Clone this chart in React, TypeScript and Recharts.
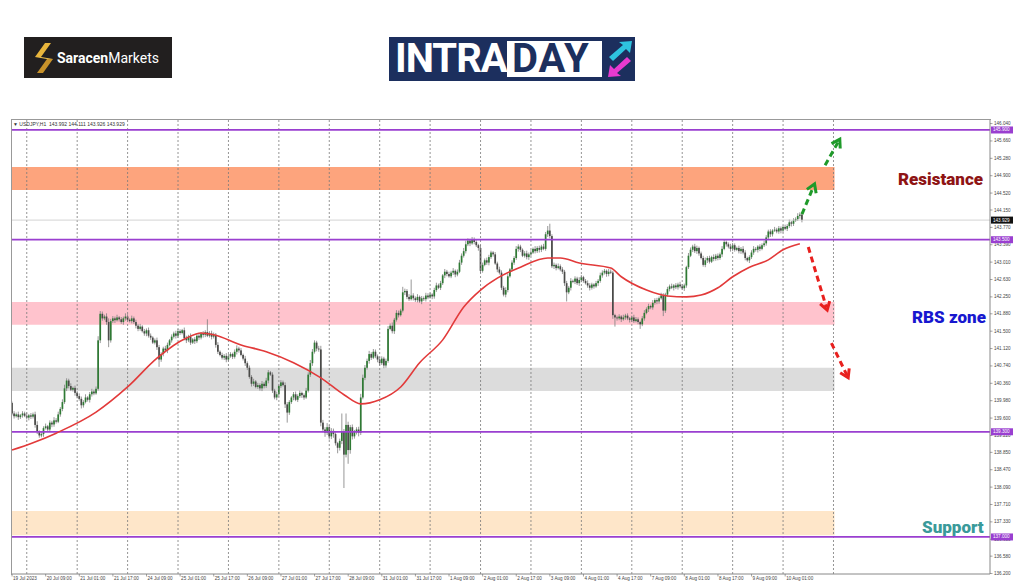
import React from 'react';
import { ComposedChart, Bar, Line, XAxis, YAxis, ReferenceArea, ReferenceLine } from 'recharts';

// USDJPY H1, 19 Jul 2023 17:00 -> 10 Aug 2023 09:00 (one value per hourly bar)
const firstOpen = 139.93;
const closes = [
  /* 0 */ 139.70, 139.64, 139.68, 139.62, 139.66, 139.70, 139.65, 139.61, 139.66, 139.63, 139.68,
  /* 11 */ 139.45, 139.30, 139.22, 139.25, 139.38, 139.42, 139.35, 139.50, 139.46, 139.55, 139.52,
  /* 22 */ 139.68, 139.80, 139.95, 140.25, 140.42, 140.30, 140.22, 140.26, 140.15, 140.08, 140.02,
  /* 33 */ 139.88, 139.95, 140.05, 140.00, 140.12, 140.18, 140.14, 140.24, 141.30, 141.88,
  /* 43 */ 141.78, 141.82, 141.70, 141.30, 141.72,
  /* 48 */ 141.78, 141.74, 141.80, 141.76, 141.70, 141.78, 141.82, 141.75, 141.72, 141.78, 141.70,
  /* 59 */ 141.62, 141.55, 141.60, 141.50, 141.45, 141.52, 141.40, 141.36, 141.25, 141.30, 141.15,
  /* 70 */ 140.88, 141.00, 141.12, 141.08, 141.20,
  /* 75 */ 141.30, 141.38, 141.45, 141.40, 141.50, 141.46, 141.52,
  /* 82 */ 141.35, 141.30, 141.38, 141.25, 141.32, 141.28, 141.40, 141.36, 141.45,
  /* 91 */ 141.42, 141.48, 141.40, 141.45, 141.38, 141.42, 141.20, 141.05, 140.98,
  /* 100 */ 140.92, 140.96, 140.88, 140.95, 141.00, 140.94, 141.05, 141.12, 141.08,
  /* 109 */ 140.98, 140.90, 140.80, 140.70, 140.50, 140.35, 140.40,
  /* 116 */ 140.28, 140.32, 140.25, 140.35, 140.30, 140.42, 140.60, 140.55,
  /* 124 */ 140.20, 140.05, 140.12, 140.30, 140.38, 140.32, 139.90, 139.72,
  /* 132 */ 139.95, 140.05, 140.12, 140.00, 140.08, 140.15, 140.10, 140.05, 140.20,
  /* 141 */ 140.55, 140.80, 141.05, 141.25, 141.12, 141.10, 139.50,
  /* 148 */ 139.35, 139.28, 139.40, 139.20, 139.32, 139.25, 139.05, 138.95, 139.10,
  /* 157 */ 139.30, 138.80, 139.45, 138.90, 139.40, 139.20, 139.30, 139.35, 139.28,
  /* 166 */ 140.05, 140.48, 140.70, 140.85, 141.00, 140.92, 141.05, 140.95, 140.88,
  /* 175 */ 140.80, 140.90, 140.75, 140.85, 141.55,
  /* 180 */ 141.62, 141.50, 141.75, 141.90, 141.85, 141.95, 142.35, 142.38,
  /* 188 */ 142.25, 142.20, 142.28, 142.22,
  /* 192 */ 142.18, 142.25, 142.15, 142.22, 142.20, 142.28, 142.24, 142.30, 142.26,
  /* 201 */ 142.40, 142.50, 142.45, 142.55,
  /* 205 */ 142.72, 142.80, 142.75, 142.70, 142.78, 142.82, 142.74, 142.80,
  /* 213 */ 143.00, 143.15, 143.25, 143.40, 143.48, 143.42, 143.50, 143.45, 143.38, 143.32, 142.82,
  /* 224 */ 142.95, 143.05, 143.00, 143.12, 143.22, 143.18, 142.98, 142.85, 142.78,
  /* 233 */ 142.45, 142.30, 142.40, 142.70, 142.85, 143.00, 143.10,
  /* 240 */ 143.30, 143.35, 143.28, 143.15, 143.20, 143.12, 143.18, 143.22,
  /* 248 */ 143.30, 143.25, 143.32, 143.28, 143.35, 143.30, 143.62, 143.70, 143.58, 142.92,
  /* 258 */ 142.95, 142.88, 142.92, 142.85, 142.80, 142.55, 142.35, 142.45,
  /* 266 */ 142.60, 142.58, 142.65, 142.55, 142.62, 142.68, 142.60, 142.55, 142.50,
  /* 275 */ 142.45, 142.52, 142.48, 142.55, 142.60, 142.72, 142.78, 142.82, 142.75, 142.80, 142.78,
  /* 286 */ 141.85, 141.80, 141.78, 141.82, 141.76, 141.80, 141.84, 141.78, 141.75, 141.80, 141.72, 141.76, 141.70,
  /* 299 */ 141.65, 141.78, 141.90, 141.98, 142.05, 142.02, 142.12, 142.18, 142.15, 142.22, 142.28, 141.95,
  /* 311 */ 142.30, 142.42, 142.48, 142.45, 142.50, 142.46, 142.52, 142.48, 142.44, 142.50,
  /* 321 */ 142.90, 143.15, 143.28, 143.35, 143.25, 143.32, 143.20, 143.10, 142.95,
  /* 330 */ 143.05, 143.10, 143.02, 143.12, 143.08, 143.15, 143.10, 143.18, 143.30, 143.45, 143.40,
  /* 341 */ 143.35, 143.30, 143.38, 143.28, 143.32, 143.25, 143.30, 143.22, 143.10, 143.05, 143.12,
  /* 352 */ 143.22, 143.30, 143.28, 143.35, 143.30, 143.38, 143.42, 143.55, 143.68, 143.62, 143.70,
  /* 363 */ 143.72, 143.68, 143.75, 143.70, 143.78, 143.74, 143.80, 143.88, 143.85, 143.92, 143.95, 144.02,
  /* 375 */ 144.05, 143.93,
];

// wick lengths above / below the body, in hundredths of a yen
const upWick = [
  3, 5, 4, 6, 3, 5, 4, 7, 3, 5, 4, 6, 8, 3, 5, 4, 6, 3, 5, 4, 7, 5, 6, 4,
  6, 8, 5, 4, 6, 3, 5, 4, 6, 5, 4, 7, 3, 5, 6, 4, 5, 9, 6, 5, 4, 7, 8, 5,
  5, 4, 6, 3, 5, 4, 7, 5, 3, 6, 4, 5, 4, 6, 3, 5, 4, 6, 5, 3, 4, 6, 5, 4,
  4, 6, 5, 3, 5, 4, 6, 5, 4, 3, 6, 5, 4, 7, 3, 5, 4, 6, 3, 5, 4, 28, 5, 6,
  5, 4, 6, 3, 5, 4, 6, 5, 4, 3, 5, 7, 4, 5, 3, 6, 4, 5, 4, 6, 3, 5, 4, 6,
  4, 6, 5, 3, 5, 4, 6, 3, 5, 4, 6, 5, 4, 3, 5, 6, 4, 5, 3, 4, 6, 5, 7, 6,
  5, 4, 6, 8, 6, 5, 9, 4, 6, 5, 4, 3, 5, 40, 6, 25, 7, 5, 6, 4, 5, 6, 8, 7,
  6, 5, 7, 4, 6, 5, 4, 6, 5, 4, 5, 6, 5, 7, 4, 6, 5, 4, 12, 5, 4, 6, 35, 5,
  4, 6, 3, 5, 4, 6, 5, 4, 3, 5, 6, 4, 5, 3, 6, 4, 5, 4, 6, 3, 5, 6, 5, 7,
  8, 5, 4, 6, 5, 4, 3, 6, 5, 4, 6, 5, 4, 3, 5, 4, 6, 5, 4, 6, 5, 3, 5, 4,
  6, 5, 4, 3, 5, 6, 4, 5, 3, 6, 4, 5, 4, 6, 5, 10, 15, 4, 5, 3, 6, 4, 5, 4,
  5, 4, 6, 3, 5, 4, 6, 5, 3, 4, 6, 5, 4, 3, 5, 4, 6, 5, 4, 3, 6, 5, 4, 3,
  4, 5, 3, 6, 4, 5, 3, 4, 6, 5, 4, 3, 5, 6, 4, 5, 3, 6, 4, 5, 4, 6, 5, 4,
  5, 4, 6, 3, 5, 4, 6, 5, 4, 3, 6, 5, 4, 6, 5, 3, 4, 5, 6, 4, 5, 3, 6, 4,
  5, 4, 6, 5, 3, 4, 6, 5, 4, 3, 5, 4, 6, 5, 3, 4, 5, 6, 4, 3, 5, 4, 6, 5,
  4, 5, 3, 6, 4, 5, 4, 3, 5, 4, 6, 3, 5, 4, 6, 5, 4,
];
const downWick = [
  4, 5, 3, 6, 4, 5, 3, 4, 6, 5, 4, 6, 5, 5, 4, 6, 3, 5, 4, 6, 5, 4, 3, 5,
  5, 4, 6, 5, 3, 4, 6, 5, 4, 7, 5, 3, 4, 6, 5, 4, 3, 4, 6, 5, 4, 6, 15, 5,
  4, 6, 3, 5, 4, 6, 5, 4, 3, 5, 4, 6, 5, 4, 3, 5, 6, 4, 5, 3, 4, 6, 16, 5,
  5, 4, 6, 3, 5, 4, 6, 5, 4, 3, 5, 6, 4, 5, 3, 6, 4, 5, 4, 6, 5, 3, 4, 6,
  4, 6, 5, 3, 4, 5, 6, 4, 3, 5, 4, 6, 5, 3, 4, 6, 5, 4, 6, 5, 3, 4, 5, 6,
  5, 4, 6, 3, 5, 4, 6, 5, 4, 3, 8, 22, 5, 4, 6, 3, 5, 4, 6, 5, 3, 4, 5, 6,
  4, 6, 5, 8, 6, 9, 5, 7, 6, 8, 5, 12, 6, 7, 73, 6, 30, 8, 7, 5, 6, 8, 5, 4,
  5, 4, 6, 5, 3, 4, 6, 5, 4, 6, 5, 4, 3, 5, 6, 4, 5, 3, 4, 6, 5, 4, 3, 5,
  4, 5, 3, 6, 4, 5, 4, 3, 6, 5, 4, 3, 5, 4, 6, 5, 3, 4, 5, 6, 4, 3, 5, 4,
  5, 4, 6, 3, 5, 4, 6, 5, 4, 3, 5, 6, 4, 5, 3, 6, 4, 5, 4, 6, 5, 3, 4, 5,
  4, 6, 5, 3, 4, 5, 6, 4, 3, 5, 4, 6, 5, 3, 4, 6, 5, 4, 6, 5, 3, 4, 5, 6,
  20, 4, 6, 3, 5, 4, 6, 5, 4, 3, 5, 6, 4, 5, 3, 6, 4, 5, 4, 6, 5, 3, 8, 20,
  5, 4, 6, 3, 5, 4, 6, 5, 4, 3, 5, 10, 4, 5, 3, 6, 4, 5, 4, 6, 5, 3, 12, 5,
  4, 5, 3, 6, 4, 5, 4, 3, 6, 5, 4, 3, 5, 4, 6, 5, 3, 4, 5, 6, 4, 3, 5, 4,
  5, 4, 6, 3, 5, 4, 6, 5, 4, 3, 5, 6, 4, 5, 3, 6, 4, 5, 4, 6, 5, 3, 4, 5,
  4, 6, 5, 3, 4, 5, 6, 4, 3, 5, 4, 6, 5, 3, 4, 6, 5,
];

// moving average read at sample bars
const maBars = [0, 10, 21, 40, 55, 69, 83, 90, 96, 109, 121, 134, 147, 158, 166, 175, 185, 194, 205, 215, 223, 231, 242, 255, 261, 270, 285, 290, 302, 312, 321, 328, 336, 343, 351, 360, 367, 375];
const maValues = [138.90, 139.06, 139.27, 139.73, 140.28, 140.91, 141.35, 141.46, 141.42, 141.20, 141.05, 140.81, 140.48, 140.11, 139.91, 140.00, 140.28, 140.81, 141.31, 142.03, 142.40, 142.66, 142.90, 143.10, 143.10, 142.99, 142.88, 142.69, 142.40, 142.27, 142.25, 142.29, 142.45, 142.69, 142.90, 143.06, 143.28, 143.41];

const xLabels = ['19 Jul 2023', '20 Jul 09:00', '21 Jul 01:00', '21 Jul 17:00', '24 Jul 09:00', '25 Jul 01:00', '25 Jul 17:00', '26 Jul 09:00', '27 Jul 01:00', '27 Jul 17:00', '28 Jul 09:00', '31 Jul 01:00', '31 Jul 17:00', '1 Aug 09:00', '2 Aug 01:00', '2 Aug 17:00', '3 Aug 09:00', '4 Aug 01:00', '4 Aug 17:00', '7 Aug 09:00', '8 Aug 01:00', '8 Aug 17:00', '9 Aug 09:00', '10 Aug 01:00'];
const dayStarts = [7, 31, 55, 79, 103, 127, 151, 175, 199, 223, 247, 271, 295, 319, 343, 367, 391];
const priceTicks = [146.04, 145.66, 145.28, 144.90, 144.52, 144.15, 143.77, 143.39, 143.01, 142.63, 142.25, 141.88, 141.50, 141.12, 140.74, 140.36, 139.98, 139.60, 139.22, 138.85, 138.47, 138.09, 137.71, 137.33, 136.95, 136.58, 136.20];
const keyLevels = [145.9, 143.5, 139.3, 137.0];
const lastPrice = 143.929;

const resistanceZone = [144.59, 145.09];
const rbsZone = [141.64, 142.14];
const midZone = [140.19, 140.70];
const supportZone = [137.04, 137.57];

const greenArrows = [
  [[376, 144.06], [382, 144.72]],
  [[387, 145.13], [394, 145.70]],
];
const redArrows = [
  [[379, 143.34], [388, 141.96]],
  [[390, 141.24], [398, 140.48]],
];

const SLOTS = 466;
const rows = Array.from({ length: SLOTS }, (_, i) => {
  const k = maBars.indexOf(i);
  const ma = k >= 0 ? maValues[k] : null;
  if (i >= closes.length) return { i, ma };
  const o = i === 0 ? firstOpen : closes[i - 1];
  const c = closes[i];
  const hi = Math.max(o, c) + upWick[i] / 100;
  const lo = Math.min(o, c) - downWick[i] / 100;
  return { i, o, c, hi, lo, range: [lo, hi], ma };
});

const Candle = (props: any) => {
  const { x, y, width, height, payload } = props;
  if (!payload || payload.hi == null) return null;
  const top = Math.min(y, y + height);
  const h = Math.abs(height);
  const span = payload.hi - payload.lo;
  const py = (p: number) => (span > 0 ? top + ((payload.hi - p) / span) * h : top);
  const cx = x + width / 2;
  const yo = py(payload.o);
  const yc = py(payload.c);
  const bull = payload.c >= payload.o;
  return (
    <g>
      <line x1={cx} x2={cx} y1={top} y2={top + h} stroke='#7d7d7d' strokeWidth={0.8} />
      <rect x={cx - 0.85} y={Math.min(yo, yc)} width={1.7} height={Math.max(0.8, Math.abs(yo - yc))} fill={bull ? '#2f7a34' : '#4a4a48'} />
    </g>
  );
};

const Arrow = (color: string) => (props: any) => {
  const { x1, y1, x2, y2 } = props;
  if (x1 == null) return null;
  const dx = x2 - x1;
  const dy = y2 - y1;
  const len = Math.hypot(dx, dy) || 1;
  const ux = dx / len;
  const uy = dy / len;
  const bx = x2 - ux * 8;
  const by = y2 - uy * 8;
  return (
    <g>
      <line x1={x1} y1={y1} x2={x2 - ux * 3} y2={y2 - uy * 3} stroke={color} strokeWidth={3} strokeDasharray='6 4' />
      <polyline points={`${bx - uy * 5},${by + ux * 5} ${x2},${y2} ${bx + uy * 5},${by - ux * 5}`} fill='none' stroke={color} strokeWidth={3} />
    </g>
  );
};

const PriceTick = (props: any) => {
  const { x, y, payload } = props;
  const v = payload.value;
  const isLevel = keyLevels.includes(v);
  const isLast = v === lastPrice;
  if (isLevel || isLast) {
    return (
      <g>
        <rect x={x + 1} y={y - 3.5} width={22} height={7} fill={isLast ? '#111' : '#9a3fd0'} />
        <text x={x + 3} y={y + 0.3} fontSize={4.6} fill='#fff' dominantBaseline='middle' fontFamily='Liberation Sans'>{v.toFixed(3)}</text>
      </g>
    );
  }
  return (
    <g>
      <line x1={x} x2={x + 2.5} y1={y} y2={y} stroke='#666' strokeWidth={0.6} />
      <text x={x + 4} y={y + 0.3} fontSize={4.6} fill='#444' dominantBaseline='middle' fontFamily='Liberation Sans'>{v.toFixed(3)}</text>
    </g>
  );
};

const TimeTick = (props: any) => {
  const { x, y, payload } = props;
  const label = xLabels[Math.round(payload.value / 16)];
  return (
    <g>
      <line x1={x} x2={x} y1={y} y2={y + 2.5} stroke='#666' strokeWidth={0.6} />
      <text x={x + 1} y={y + 6} fontSize={4.6} fill='#444' fontFamily='Liberation Sans'>{label}</text>
    </g>
  );
};

const SaracenLogo = () => (
  <div style={{ position: 'absolute', left: 24, top: 37, width: 148, height: 41, background: '#221f1f', display: 'flex', alignItems: 'center' }}>
    <svg width={22} height={34} style={{ marginLeft: 9 }}>
      <polygon points='12,2 18,2 8,16 2,16' fill='#e8b53c' />
      <polygon points='14,18 20,18 10,32 4,32' fill='#c8922a' />
      <polygon points='2,16 8,16 20,18 14,18' fill='#f0c24e' />
    </svg>
    <span style={{ fontFamily: 'Roboto', fontSize: 14, color: '#fff', marginLeft: 2 }}>
      <b>Saracen</b>Markets
    </span>
  </div>
);

const IntradayLogo = () => (
  <div style={{ position: 'absolute', left: 389, top: 37, width: 246, height: 44, background: '#1c2f5e' }}>
    <div style={{ position: 'absolute', left: 6, top: 1, fontFamily: 'Roboto', fontWeight: 700, fontSize: 40, letterSpacing: -1, color: '#fff', lineHeight: '42px' }}>INTRA</div>
    <div style={{ position: 'absolute', left: 118, top: 4, width: 95, height: 36, background: '#fff' }}>
      <div style={{ position: 'absolute', left: 5, top: -3, fontFamily: 'Roboto', fontWeight: 700, fontSize: 40, letterSpacing: 1, color: '#1c2f5e', lineHeight: '42px' }}>DAY</div>
    </div>
    <svg width={30} height={40} style={{ position: 'absolute', left: 216, top: 2 }}>
      <polygon points='4,18 18,6 14,3 27,2 25,14 21,10 8,22' fill='#2ec4e0' />
      <polygon points='26,22 12,34 16,37 3,38 5,26 9,30 22,18' fill='#e83ad0' />
    </svg>
  </div>
);

const noteStyle: React.CSSProperties = { position: 'absolute', fontFamily: 'Roboto', fontWeight: 900, fontSize: 17, lineHeight: '20px' };

export default function App() {
  return (
    <div style={{ position: 'absolute', left: 0, top: 0, width: 1024, height: 587, background: '#fff', overflow: 'hidden' }}>
      <SaracenLogo />
      <IntradayLogo />
      <ComposedChart
        width={1024}
        height={587}
        data={rows}
        margin={{ top: 119, left: 11, right: 0, bottom: 0 }}
        barCategoryGap={0}
      >
        <ReferenceArea y1={resistanceZone[0]} y2={resistanceZone[1]} x2={391} fill='#fda47d' fillOpacity={1} />
        <ReferenceArea y1={rbsZone[0]} y2={rbsZone[1]} x2={391} fill='#ffc3cd' fillOpacity={1} />
        <ReferenceArea y1={midZone[0]} y2={midZone[1]} x2={391} fill='#dcdcdc' fillOpacity={1} />
        <ReferenceArea y1={supportZone[0]} y2={supportZone[1]} x2={391} fill='#fee6c9' fillOpacity={1} />
        {dayStarts.map((d) => (
          <ReferenceLine key={d} x={d} stroke='#7a7a7a' strokeWidth={0.8} strokeDasharray='2 2' />
        ))}
        <ReferenceLine y={lastPrice} stroke='#c8c8c8' strokeWidth={0.8} />
        {keyLevels.map((v) => (
          <ReferenceLine key={v} y={v} stroke='#9a3fd0' strokeWidth={1.8} />
        ))}
        <XAxis
          dataKey='i'
          height={13}
          ticks={xLabels.map((_, k) => k * 16)}
          interval={0}
          tick={<TimeTick />}
          tickLine={false}
          tickSize={0}
          tickMargin={0}
          axisLine={{ stroke: '#888' }}
        />
        <YAxis
          orientation='right'
          width={34}
          type='number'
          domain={[136.19, 146.14]}
          allowDataOverflow
          ticks={[...priceTicks, ...keyLevels, lastPrice]}
          interval={0}
          tick={<PriceTick />}
          tickLine={false}
          tickSize={0}
          tickMargin={0}
          axisLine={{ stroke: '#888' }}
        />
        <Bar dataKey='range' shape={<Candle />} isAnimationActive={false} />
        <Line type='monotone' dataKey='ma' stroke='#e23a3a' strokeWidth={1.6} dot={false} connectNulls isAnimationActive={false} />
        {greenArrows.map((a, k) => (
          <ReferenceLine key={'g' + k} segment={[{ x: a[0][0], y: a[0][1] }, { x: a[1][0], y: a[1][1] }]} shape={Arrow('#1f9a2a')} />
        ))}
        {redArrows.map((a, k) => (
          <ReferenceLine key={'r' + k} segment={[{ x: a[0][0], y: a[0][1] }, { x: a[1][0], y: a[1][1] }]} shape={Arrow('#e8201e')} />
        ))}
      </ComposedChart>
      <div style={{ position: 'absolute', left: 11, top: 119, width: 979, height: 455, borderTop: '1px solid #999', borderLeft: '1px solid #999', pointerEvents: 'none' }} />
      <div style={{ position: 'absolute', left: 13, top: 121, fontFamily: 'Liberation Sans', fontSize: 5, color: '#333', whiteSpace: 'pre' }}>
        {'▼ USDJPY,H1  143.992 144.111 143.926 143.929'}
      </div>
      <div style={{ ...noteStyle, left: 898, top: 169, color: '#8e1414' }}>Resistance</div>
      <div style={{ ...noteStyle, left: 912, top: 307, color: '#1717cf' }}>RBS zone</div>
      <div style={{ ...noteStyle, left: 922, top: 517, color: '#3a9a9a' }}>Support</div>
    </div>
  );
}
